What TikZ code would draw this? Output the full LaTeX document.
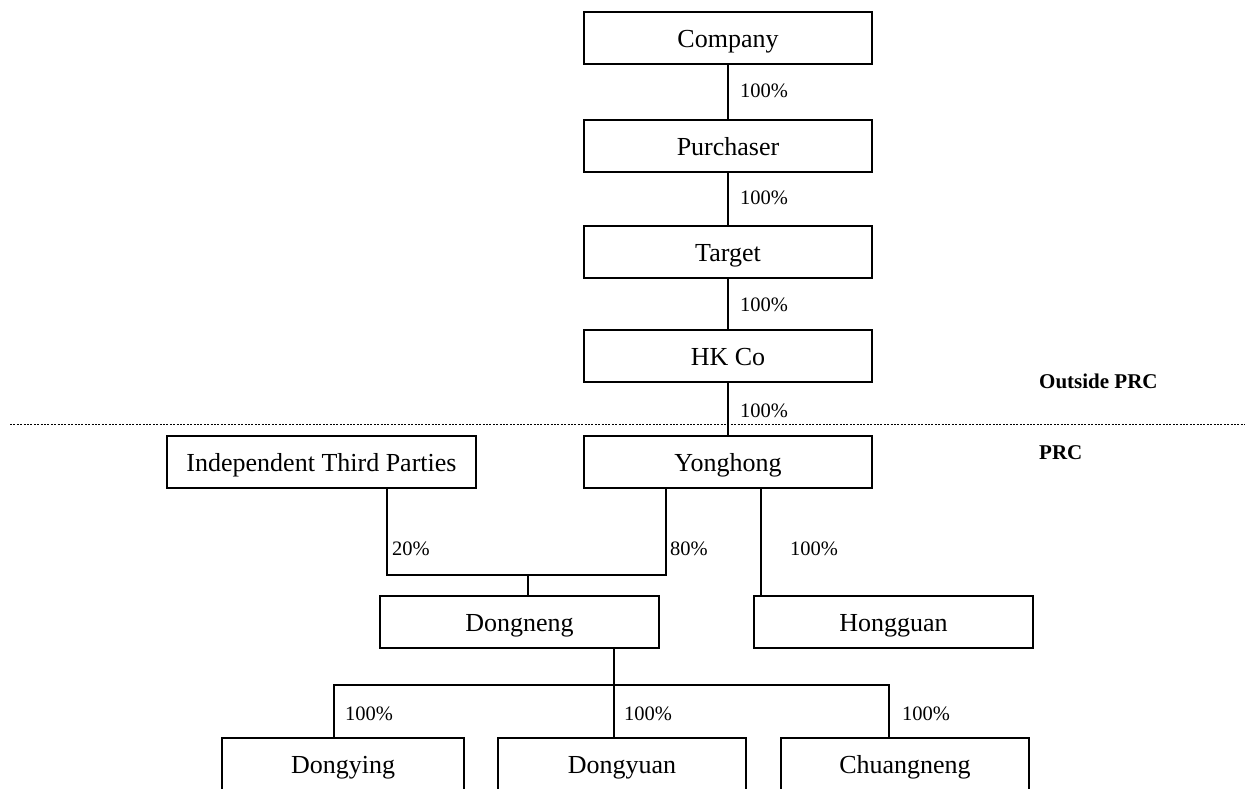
\documentclass[tikz,border=0pt]{standalone}
\usepackage{fontspec}
\setmainfont{Liberation Serif}
\begin{document}
\begin{tikzpicture}[x=1pt,y=-1pt,
  box/.style={draw,line width=1.4pt,minimum height=52pt,inner sep=0pt,text height=19pt,text depth=0pt,font=\fontsize{26}{30}\selectfont},
  pct/.style={anchor=west,inner sep=0pt,font=\fontsize{20.5}{24}\selectfont},
  region/.style={anchor=west,inner sep=0pt,font=\fontsize{21}{25}\selectfont\bfseries},
  conn/.style={line width=1.4pt},
  boundary/.style={line width=1.9pt,dash pattern=on 1.9pt off 1.5pt}]
\useasboundingbox (0,0) rectangle (1245,788);
\clip (0,0) rectangle (1245,788);
% boxes
\node[box,minimum width=288pt] (company) at (728,38) {Company};
\node[box,minimum width=288pt] (purchaser) at (728,146) {Purchaser};
\node[box,minimum width=288pt] (target) at (728,252) {Target};
\node[box,minimum width=288pt] (hkco) at (728,356) {HK Co};
\node[box,minimum width=288pt] (yonghong) at (728,462) {Yonghong};
\node[box,minimum width=309pt] (itp) at (321.5,462) {Independent Third Parties};
\node[box,minimum width=279pt] (dongneng) at (519.5,622) {Dongneng};
\node[box,minimum width=279pt] (hongguan) at (893.5,622) {Hongguan};
\node[box,minimum width=242pt] (dongying) at (343,764) {Dongying};
\node[box,minimum width=248pt] (dongyuan) at (622,764) {Dongyuan};
\node[box,minimum width=248pt] (chuangneng) at (905,764) {Chuangneng};
% junction coordinates
\coordinate (jl) at (387,575);
\coordinate (jr) at (666,575);
\coordinate (jm) at (528,575);
\coordinate (hx) at (761,575);
\coordinate (bl) at (334,685);
\coordinate (bm) at (614,685);
\coordinate (br) at (889,685);
% connectors
\draw[conn] (company) -- (purchaser);
\draw[conn] (purchaser) -- (target);
\draw[conn] (target) -- (hkco);
\draw[conn] (hkco) -- (yonghong);
\draw[conn] (itp.south -| jl) -- (jl) -- (jr) -- (yonghong.south -| jr);
\draw[conn] (jm) -- (dongneng.north -| jm);
\draw[conn] (yonghong.south -| hx) -- (hongguan.north -| hx);
\draw[conn] (dongneng.south -| bm) -- (dongyuan.north -| bm);
\draw[conn] (dongying.north -| bl) -- (bl) -- (br) -- (chuangneng.north -| br);
% dotted boundary
\coordinate (dl) at (10,424.5);
\coordinate (dr) at (1245,424.5);
\draw[boundary] (dl) -- (dr);
% labels
\node[pct] (p1) at (740,91) {100\%};
\node[pct] (p2) at (740,198) {100\%};
\node[pct] (p3) at (740,305) {100\%};
\node[pct] (p4) at (740,411) {100\%};
\node[pct] (p5) at (392,549) {20\%};
\node[pct] (p6) at (670,549) {80\%};
\node[pct] (p7) at (790,549) {100\%};
\node[pct] (p8) at (345,714) {100\%};
\node[pct] (p9) at (624,714) {100\%};
\node[pct] (p10) at (902,714) {100\%};
\node[region] (outside) at (1039,381) {Outside PRC};
\node[region] (prc) at (1039,452.5) {PRC};
\end{tikzpicture}
\end{document}
